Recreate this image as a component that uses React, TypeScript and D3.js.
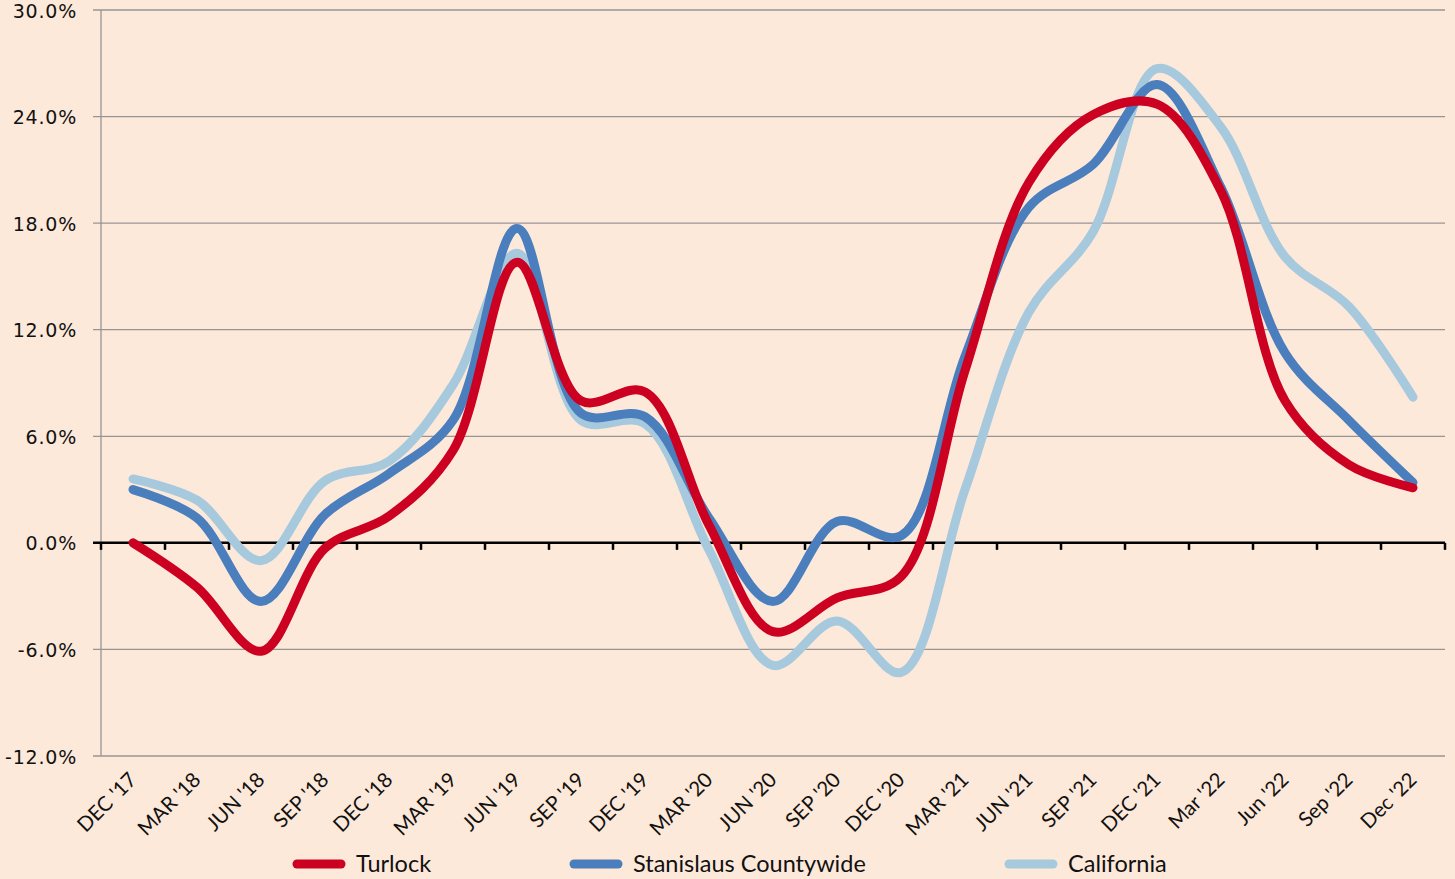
import { useEffect, useRef } from 'react';
import * as d3 from 'd3';

// Quarter labels along the bottom axis
const quarters = ["DEC '17", "MAR '18", "JUN '18", "SEP '18", "DEC '18", "MAR '19", "JUN '19",
                  "SEP '19", "DEC '19", "MAR '20", "JUN '20", "SEP '20", "DEC '20", "MAR '21",
                  "JUN '21", "SEP '21", "DEC '21", "Mar '22", "Jun '22", "Sep '22", "Dec '22"];

// Year over year change, percent
const turlock = [0.0, -2.5, -6.1, -0.3, 1.5, 5.2, 15.8, 8.0, 8.5, 1.0, -5.0, -3.1, -1.9, 9.7,
                 20.3, 24.1, 24.7, 19.8, 8.0, 4.4, 3.1];
const stanislaus = [3.0, 1.4, -3.3, 1.6, 3.9, 6.9, 17.7, 7.3, 7.1, 1.4, -3.3, 1.2, 0.4, 10.5,
                    18.9, 21.3, 25.8, 20.0, 10.7, 6.9, 3.4];
const california = [3.6, 2.4, -1.0, 3.5, 4.6, 8.9, 16.3, 6.9, 6.7, -0.4, -6.9, -4.4, -7.3, 3.0,
                    13.0, 17.5, 26.7, 23.4, 16.1, 13.3, 8.2];

const yTicks = [-12, -6, 0, 6, 12, 18, 24, 30];

const seriesNames = ['Turlock', 'Stanislaus Countywide', 'California'];
const seriesColors = ['#CC0020', '#4A7EBD', '#A7C9DD'];

const width = 1455;
const height = 879;
const left = 101;
const right = 1445;
const top = 10;
const bottom = 756;

function drawChart(node: SVGSVGElement) {
  const svg = d3.select(node);
  svg.selectAll('*').remove();

  svg.append('rect')
    .attr('width', width)
    .attr('height', height)
    .attr('fill', '#FDE9DA');

  const x = d3.scaleBand<string>()
    .domain(quarters)
    .range([left, right]);

  const y = d3.scaleLinear()
    .domain([-12, 30])
    .range([bottom, top]);

  const cx = (i: number) => (x(quarters[i]) as number) + x.bandwidth() / 2;

  // gridlines + y labels
  svg.append('g')
    .selectAll('line')
    .data(yTicks.filter(d => d !== 0))
    .join('line')
    .attr('x1', left - 8)
    .attr('x2', right)
    .attr('y1', d => y(d))
    .attr('y2', d => y(d))
    .attr('stroke', '#979594')
    .attr('stroke-width', 1.3);

  svg.append('line')
    .attr('x1', left)
    .attr('x2', left)
    .attr('y1', top)
    .attr('y2', bottom)
    .attr('stroke', '#979594')
    .attr('stroke-width', 1.3);

  svg.append('g')
    .selectAll('text')
    .data(yTicks)
    .join('text')
    .attr('x', 77)
    .attr('y', d => y(d) + 7.5)
    .attr('text-anchor', 'end')
    .attr('font-family', 'DejaVu Sans, Verdana, sans-serif')
    .attr('font-size', 19)
    .attr('letter-spacing', 0.8)
    .attr('fill', '#111')
    .text(d => d.toFixed(1) + '%');

  // zero axis with ticks at band edges
  svg.append('line')
    .attr('x1', left - 8)
    .attr('x2', right)
    .attr('y1', y(0))
    .attr('y2', y(0))
    .attr('stroke', '#000')
    .attr('stroke-width', 2.5);

  const edges = quarters.map(q => x(q) as number).concat([right]);
  svg.append('g')
    .selectAll('line')
    .data(edges)
    .join('line')
    .attr('x1', d => d)
    .attr('x2', d => d)
    .attr('y1', y(0))
    .attr('y2', y(0) + 7)
    .attr('stroke', '#000')
    .attr('stroke-width', 2.5);

  // x labels, rotated
  svg.append('g')
    .selectAll('text')
    .data(quarters)
    .join('text')
    .attr('transform', (d, i) => 'translate(' + (cx(i) + 5) + ',' + 781 + ') rotate(-45)')
    .attr('text-anchor', 'end')
    .attr('font-family', 'Lato, sans-serif')
    .attr('font-size', 20.5)
    .attr('fill', '#111')
    .text(d => d);

  // lines
  const allSeries = [turlock, stanislaus, california];
  const line = d3.line<number>()
    .x((d, i) => cx(i))
    .y(d => y(d))
    .curve(d3.curveCatmullRom.alpha(0.5));

  // draw California first so darker lines sit above it
  [2, 1, 0].forEach(k => {
    svg.append('path')
      .datum(allSeries[k])
      .attr('d', line)
      .attr('fill', 'none')
      .attr('stroke', seriesColors[k])
      .attr('stroke-width', 9)
      .attr('stroke-linecap', 'round')
      .attr('stroke-linejoin', 'round');
  });

  // legend
  const legendX = [293, 570, 1005];
  const legend = svg.append('g')
    .selectAll('g')
    .data(seriesNames)
    .join('g')
    .attr('transform', (d, i) => 'translate(' + legendX[i] + ',' + 864 + ')');

  legend.append('line')
    .attr('x1', 4)
    .attr('x2', 48)
    .attr('stroke', (d, i) => seriesColors[i])
    .attr('stroke-width', 9)
    .attr('stroke-linecap', 'round');

  legend.append('text')
    .attr('x', 63)
    .attr('y', 8)
    .attr('font-family', 'Lato, sans-serif')
    .attr('font-size', 23.5)
    .attr('fill', '#111')
    .text(d => d);
}

export default function App() {
  const ref = useRef<SVGSVGElement>(null);

  useEffect(() => {
    document.body.style.margin = '0';
    if (ref.current) drawChart(ref.current);
  }, []);

  return (
    <svg ref={ref} width={width} height={height} style={{ display: 'block' }}></svg>
  );
}
